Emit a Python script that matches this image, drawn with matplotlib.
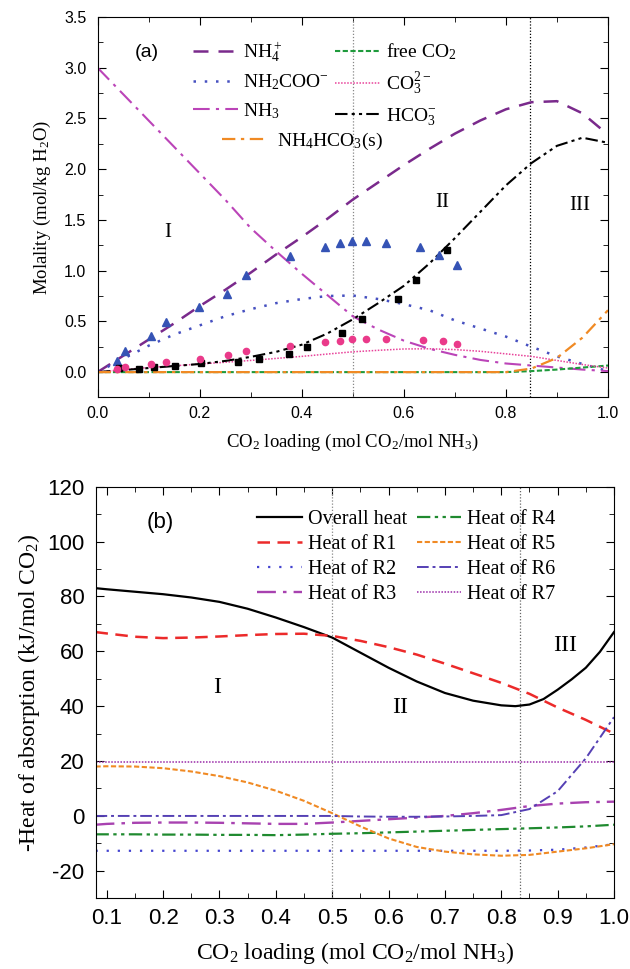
import matplotlib
matplotlib.use("Agg")
import matplotlib.pyplot as plt
from matplotlib.ticker import MultipleLocator

plt.rcParams['font.family'] = ['Liberation Serif', 'DejaVu Serif']
plt.rcParams['mathtext.fontset'] = 'custom'
plt.rcParams['mathtext.rm'] = 'Liberation Serif'
plt.rcParams['mathtext.it'] = 'Liberation Serif:italic'
plt.rcParams['mathtext.bf'] = 'Liberation Serif:bold'
plt.rcParams['axes.unicode_minus'] = False

# ---- panel (a): speciation vs CO2 loading ----
xa = [0.0, 0.05, 0.1, 0.15, 0.2, 0.25, 0.3, 0.35, 0.4, 0.45, 0.5,
      0.55, 0.6, 0.65, 0.7, 0.75, 0.8, 0.85, 0.9, 0.95, 1.0]
nh4 = [0.0, 0.16, 0.32, 0.48, 0.65, 0.81, 0.98, 1.16, 1.33, 1.51, 1.70,
       1.87, 2.04, 2.20, 2.35, 2.48, 2.59, 2.66, 2.67, 2.55, 2.34]
free_co2 = [0.0, 0.0, 0.0, 0.0, 0.0, 0.0, 0.0, 0.0, 0.0, 0.0, 0.0,
            0.0, 0.0, 0.0, 0.0, 0.0, 0.0, 0.01, 0.025, 0.045, 0.065]
nh2coo = [0.0, 0.13, 0.26, 0.37, 0.46, 0.55, 0.62, 0.68, 0.72, 0.75, 0.755,
          0.72, 0.67, 0.61, 0.51, 0.43, 0.35, 0.25, 0.155, 0.08, 0.01]
co3 = [0.0, 0.025, 0.045, 0.062, 0.08, 0.097, 0.115, 0.135, 0.155, 0.178, 0.2,
       0.215, 0.228, 0.23, 0.222, 0.205, 0.18, 0.155, 0.115, 0.075, 0.04]
nh3 = [3.0, 2.74, 2.48, 2.22, 1.96, 1.70, 1.42, 1.19, 0.97, 0.76, 0.55,
       0.42, 0.31, 0.23, 0.17, 0.12, 0.085, 0.065, 0.045, 0.025, 0.01]
hco3 = [0.0, 0.02, 0.04, 0.06, 0.08, 0.11, 0.15, 0.20, 0.27, 0.38, 0.52,
        0.68, 0.85, 1.07, 1.32, 1.58, 1.84, 2.06, 2.23, 2.31, 2.26]
nh4hco3_s = [0.0, 0.0, 0.0, 0.0, 0.0, 0.0, 0.0, 0.0, 0.0, 0.0, 0.0,
             0.0, 0.0, 0.0, 0.0, 0.0, 0.0, 0.035, 0.14, 0.34, 0.61]

# experimental points
tri_x = [0.038, 0.053, 0.104, 0.134, 0.199, 0.254, 0.291, 0.377, 0.446, 0.475,
         0.499, 0.526, 0.565, 0.632, 0.668, 0.704]
tri_y = [0.105, 0.21, 0.36, 0.49, 0.64, 0.77, 0.96, 1.146, 1.23, 1.27,
         1.29, 1.29, 1.27, 1.23, 1.15, 1.06]
sq_x = [0.042, 0.081, 0.111, 0.152, 0.203, 0.276, 0.317, 0.375, 0.41, 0.479,
        0.518, 0.589, 0.623, 0.684]
sq_y = [0.045, 0.032, 0.05, 0.065, 0.085, 0.098, 0.128, 0.177, 0.252, 0.384,
        0.52, 0.72, 0.91, 1.20]
ci_x = [0.038, 0.053, 0.104, 0.135, 0.2, 0.256, 0.291, 0.377, 0.446, 0.475,
        0.499, 0.526, 0.565, 0.638, 0.676, 0.704]
ci_y = [0.03, 0.055, 0.079, 0.098, 0.134, 0.17, 0.213, 0.262, 0.292, 0.31,
        0.328, 0.33, 0.325, 0.32, 0.305, 0.28]

# ---- panel (b): heat of absorption ----
xb = [0.08, 0.1, 0.15, 0.2, 0.25, 0.3, 0.35, 0.4, 0.45, 0.5,
      0.55, 0.6, 0.65, 0.7, 0.75, 0.8, 0.85, 0.9, 0.95, 1.0]
x_overall = [0.08, 0.1, 0.15, 0.2, 0.25, 0.3, 0.35, 0.4, 0.45, 0.5,
             0.55, 0.6, 0.65, 0.7, 0.75, 0.8, 0.825, 0.85, 0.875, 0.9,
             0.925, 0.95, 0.975, 1.0]
overall = [83.0, 82.6, 81.7, 80.8, 79.6, 78.0, 75.5, 72.3, 68.8, 65.0,
           59.5, 54.0, 49.0, 44.8, 42.0, 40.3, 40.0, 40.6, 42.6, 46.0,
           49.8, 54.0, 59.8, 67.0]
r1 = [67.0, 66.5, 65.3, 64.8, 65.0, 65.4, 65.9, 66.3, 66.4, 65.6,
      63.8, 61.5, 58.8, 55.5, 52.0, 48.5, 44.5, 39.5, 35.0, 30.0]
r2 = [-12.7, -12.7, -12.7, -12.7, -12.7, -12.7, -12.7, -12.7, -12.7, -12.7,
      -12.7, -12.7, -12.7, -12.7, -12.7, -12.7, -12.6, -12.3, -11.5, -10.3]
r3 = [-3.2, -2.9, -2.5, -2.4, -2.4, -2.5, -2.7, -2.9, -2.9, -2.4,
      -1.8, -1.2, -0.6, 0.0, 1.0, 2.2, 3.6, 4.5, 5.0, 5.2]
r4 = [-6.7, -6.7, -6.7, -6.8, -6.8, -6.9, -6.9, -7.0, -6.8, -6.5,
      -6.3, -6.0, -5.7, -5.4, -5.1, -4.8, -4.5, -4.2, -3.8, -3.2]
r5 = [18.0, 18.1, 18.0, 17.4, 16.2, 14.5, 12.2, 9.2, 5.5, 1.0,
      -3.8, -8.2, -11.3, -13.0, -14.0, -14.5, -14.2, -13.0, -11.8, -10.3]
r6 = [0.0, 0.0, 0.0, 0.0, 0.0, 0.0, 0.0, 0.0, 0.0, 0.0,
      -0.2, -0.3, -0.3, -0.2, 0.0, 0.3, 2.5, 9.0, 21.0, 36.0]
r7 = [19.5] * len(xb)

fig = plt.figure(figsize=(6.3, 9.69), dpi=100)
ax1 = fig.add_axes([0.1548, 0.5898, 0.8103, 0.3927])
ax2 = fig.add_axes([0.1516, 0.0730, 0.8230, 0.4248])

# panel (a)
ax1.axvline(0.5, color='#888888', ls=(0, (1, 1.5)), lw=0.9)
ax1.axvline(0.848, color='black', ls=(0, (1, 1.5)), lw=0.9)
l_nh4, = ax1.plot(xa, nh4, color='#7a2a8c', ls=(0, (6, 4)), lw=1.8)
l_nh2, = ax1.plot(xa, nh2coo, color='#4650c0', ls=(0, (1, 3.5)), lw=1.8)
l_nh3, = ax1.plot(xa, nh3, color='#bb44b8', ls=(0, (8, 3, 1.5, 3)), lw=1.5)
l_fco2, = ax1.plot(xa, free_co2, color='#1f9a3c', ls=(0, (2.5, 1.2)), lw=1.5)
l_co3, = ax1.plot(xa, co3, color='#e8429a', ls=(0, (1, 1)), lw=1.1)
l_hco3, = ax1.plot(xa, hco3, color='black', ls=(0, (6, 2, 1.5, 2, 1.5, 2)), lw=1.5)
l_s, = ax1.plot(xa, nh4hco3_s, color='#f08a24', ls=(0, (6, 2.5, 1.5, 2.5)), lw=1.6)
ax1.plot(tri_x, tri_y, ls='none', marker='^', ms=6, color='#3553b5')
ax1.plot(sq_x, sq_y, ls='none', marker='s', ms=4.5, color='black')
ax1.plot(ci_x, ci_y, ls='none', marker='o', ms=4.5, color='#ea3a8a')

ax1.set_xlim(0.0, 1.0)
ax1.set_ylim(-0.25, 3.5)
ax1.xaxis.set_major_locator(MultipleLocator(0.2))
ax1.xaxis.set_minor_locator(MultipleLocator(0.1))
ax1.yaxis.set_major_locator(MultipleLocator(0.5))
ax1.yaxis.set_minor_locator(MultipleLocator(0.25))
ax1.tick_params(which='both', direction='in', top=True, right=True)
ax1.tick_params(which='major', length=6, labelsize=11.5)
ax1.tick_params(axis='y', which='major', pad=8)
ax1.tick_params(axis='x', which='major', pad=6)
ax1.tick_params(which='minor', length=3.5)
for t in ax1.get_xticklabels() + ax1.get_yticklabels():
    t.set_fontfamily('Liberation Sans')
ax1.set_xlabel(r'CO$_2$ loading (mol CO$_2$/mol NH$_3$)', fontsize=13.5, labelpad=8)
ax1.set_ylabel(r'Molality (mol/kg H$_2$O)', fontsize=13.5, labelpad=8)

leg1 = ax1.legend([l_nh4, l_nh2, l_nh3, l_fco2, l_co3, l_hco3],
                  [r'NH$_4^+$', r'NH$_2$COO$^{-}$', r'NH$_3$',
                   r'free CO$_2$', r'CO$_3^{2-}$', r'HCO$_3^{-}$'],
                  ncol=2, loc='upper left', bbox_to_anchor=(0.16, 0.975),
                  frameon=False, fontsize=14, handlelength=2.3,
                  handletextpad=0.3, columnspacing=0.3, labelspacing=0.45,
                  borderpad=0.2)
ax1.add_artist(leg1)
ax1.legend([l_s], [r'NH$_4$HCO$_3$(s)'], loc='center left',
           bbox_to_anchor=(0.225, 0.672), frameon=False, fontsize=14,
           handlelength=2.3, handletextpad=0.5, borderpad=0.0)

ax1.text(0.097, 3.15, '(a)', fontsize=14, family='Liberation Sans', ha='center', va='center')
ax1.text(0.138, 1.38, 'I', fontsize=15, ha='center', va='center')
ax1.text(0.676, 1.67, 'II', fontsize=15, ha='center', va='center')
ax1.text(0.944, 1.64, 'III', fontsize=15, ha='center', va='center')

# panel (b)
ax2.axvline(0.5, color='#888888', ls=(0, (1, 1.5)), lw=0.9)
ax2.axvline(0.833, color='#666666', ls=(0, (1, 1.5)), lw=0.9)
h0, = ax2.plot(x_overall, overall, color='black', ls='-', lw=1.6)
h1, = ax2.plot(xb, r1, color='#ec2a2a', ls=(0, (5, 3)), lw=1.8)
h2, = ax2.plot(xb, r2, color='#4343d0', ls=(0, (1, 4)), lw=1.6)
h3, = ax2.plot(xb, r3, color='#a842b0', ls=(0, (8, 3, 1.5, 3)), lw=1.7)
h4, = ax2.plot(xb, r4, color='#1f8a2f', ls=(0, (6, 2, 1.5, 2, 1.5, 2)), lw=1.6)
h5, = ax2.plot(xb, r5, color='#f08a24', ls=(0, (2.5, 1.2)), lw=1.5)
h6, = ax2.plot(xb, r6, color='#5540b4', ls=(0, (6, 2, 1.5, 2)), lw=1.4)
h7, = ax2.plot(xb, r7, color='#9a2aa8', ls=(0, (1, 1)), lw=1.1)

ax2.set_xlim(0.08, 1.0)
ax2.set_ylim(-30, 120)
ax2.xaxis.set_major_locator(MultipleLocator(0.1))
ax2.xaxis.set_minor_locator(MultipleLocator(0.05))
ax2.yaxis.set_major_locator(MultipleLocator(20))
ax2.yaxis.set_minor_locator(MultipleLocator(10))
ax2.tick_params(which='both', direction='in', top=True, right=True)
ax2.tick_params(which='major', length=6, labelsize=16)
ax2.tick_params(axis='y', which='major', pad=8)
ax2.tick_params(axis='x', which='major', pad=7)
ax2.tick_params(which='minor', length=3.5)
for t in ax2.get_xticklabels() + ax2.get_yticklabels():
    t.set_fontfamily('Liberation Sans')
ax2.set_xlabel(r'CO$_2$ loading (mol CO$_2$/mol NH$_3$)', fontsize=17, labelpad=8)
ax2.set_ylabel(r'-Heat of absorption (kJ/mol CO$_2$)', fontsize=17, labelpad=4)

ax2.legend([h0, h1, h2, h3, h4, h5, h6, h7],
           ['Overall heat', 'Heat of R1', 'Heat of R2', 'Heat of R3',
            'Heat of R4', 'Heat of R5', 'Heat of R6', 'Heat of R7'],
           ncol=2, loc='upper left', bbox_to_anchor=(0.285, 0.978),
           frameon=False, fontsize=14.5, handlelength=2.2,
           handletextpad=0.3, columnspacing=0.5, labelspacing=0.3,
           borderpad=0.2)

ax2.text(0.194, 107, '(b)', fontsize=16, family='Liberation Sans', ha='center', va='center')
ax2.text(0.295, 46.8, 'I', fontsize=17, ha='center', va='center')
ax2.text(0.62, 39.5, 'II', fontsize=17, ha='center', va='center')
ax2.text(0.914, 62.2, 'III', fontsize=17, ha='center', va='center')

fig.savefig('out.png', dpi=100)
